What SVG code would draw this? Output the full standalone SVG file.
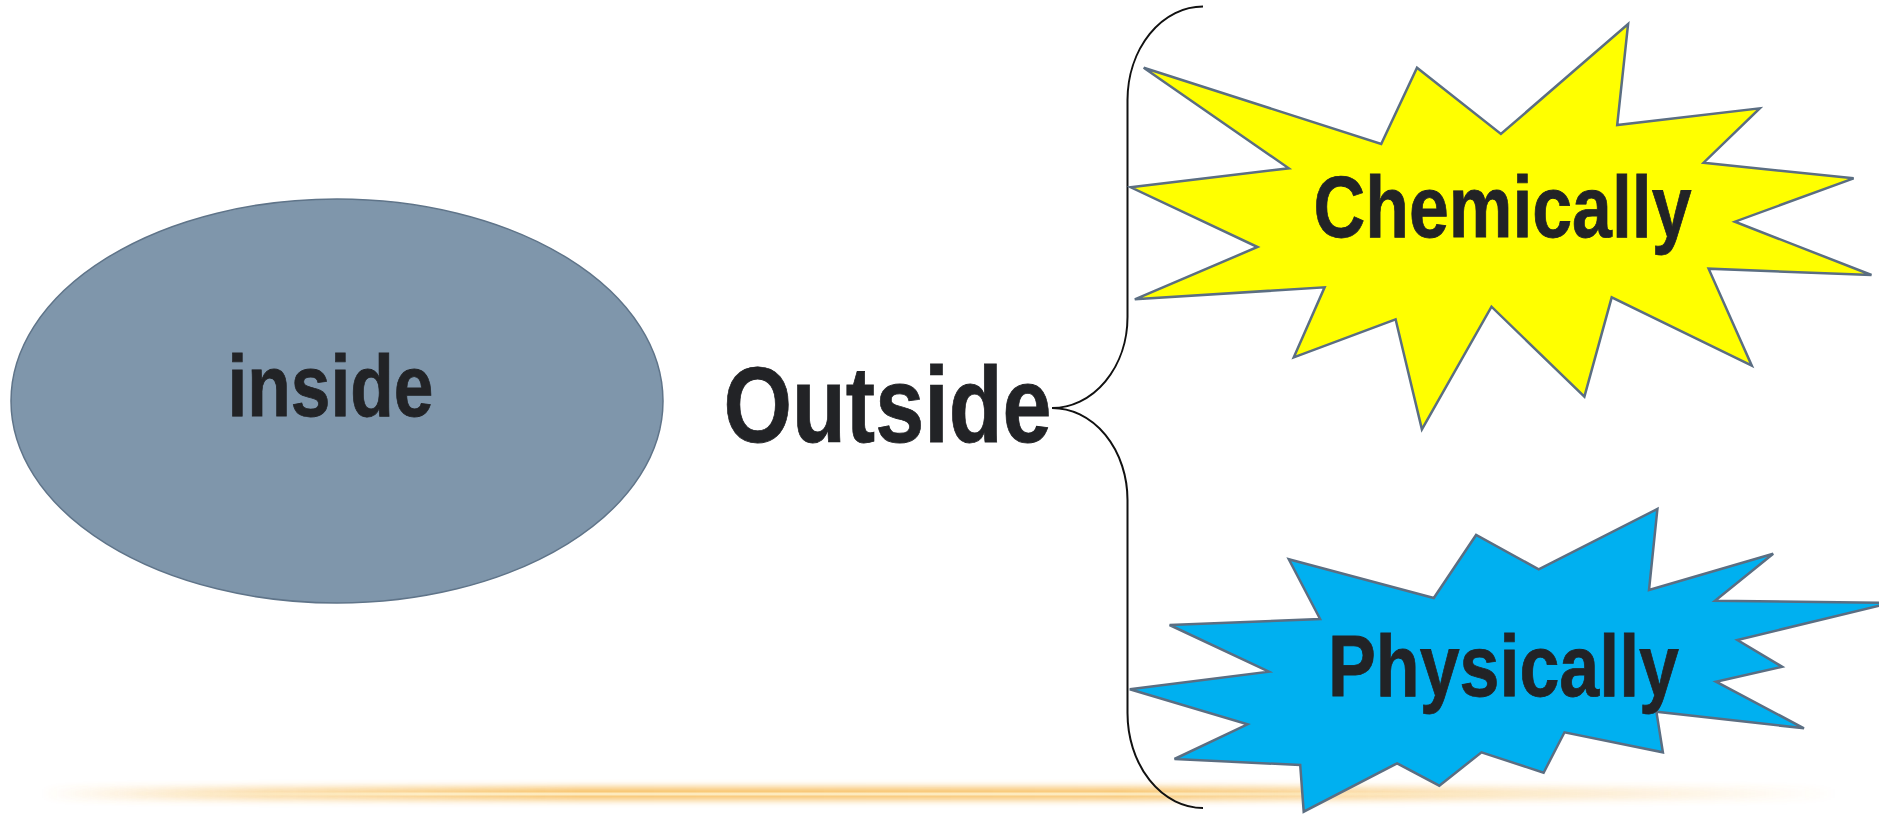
<svg xmlns="http://www.w3.org/2000/svg" width="1879" height="814" viewBox="0 0 1879 814">
<defs>
<style>
.lbl{font-family:"Liberation Sans",Arial,sans-serif;font-weight:bold;fill:#222326;stroke:#222326;stroke-width:0.8;}
.star{stroke:#5b6e82;stroke-width:2.5;stroke-linejoin:miter;}
.brace{fill:none;stroke:#111;stroke-width:2;}
</style>
<linearGradient id="glowH" x1="0" y1="0" x2="1" y2="0">
<stop offset="0" stop-color="#f6b342" stop-opacity="0"/>
<stop offset="0.12" stop-color="#f6b342" stop-opacity="0.5"/>
<stop offset="0.3" stop-color="#f6b342" stop-opacity="0.95"/>
<stop offset="0.6" stop-color="#f6b342" stop-opacity="0.9"/>
<stop offset="0.82" stop-color="#f6b342" stop-opacity="0.35"/>
<stop offset="1" stop-color="#f6b342" stop-opacity="0"/>
</linearGradient>
<linearGradient id="coreH" x1="0" y1="0" x2="1" y2="0">
<stop offset="0" stop-color="#fff3d0" stop-opacity="0"/>
<stop offset="0.2" stop-color="#fff3d0" stop-opacity="0.8"/>
<stop offset="0.65" stop-color="#fff3d0" stop-opacity="0.8"/>
<stop offset="1" stop-color="#fff3d0" stop-opacity="0"/>
</linearGradient>
<filter id="blur" x="-5%" y="-200%" width="110%" height="500%">
<feGaussianBlur stdDeviation="3.5"/>
</filter>
</defs>
<rect width="1879" height="814" fill="#ffffff"/>
<g id="glow">
<rect x="40" y="787" width="1800" height="13" fill="url(#glowH)" filter="url(#blur)" opacity="0.85"/>
<rect x="120" y="792.5" width="1500" height="3" fill="url(#coreH)"/>
</g>
<g id="inside">
<ellipse cx="337" cy="401" rx="326" ry="202" fill="#7f96ab" stroke="#5f7489" stroke-width="1.5"/>
<text class="lbl" x="227.5" y="416" font-size="87" textLength="206" lengthAdjust="spacingAndGlyphs">inside</text>
</g>
<g id="outside">
<text class="lbl" x="723.5" y="442" font-size="108" textLength="328" lengthAdjust="spacingAndGlyphs">Outside</text>
</g>
<g id="connectors">
<path class="brace" d="M1203,6.5 A75.5,94 0 0 0 1127.5,100 L1127.5,317 A75.5,91 0 0 1 1052,408 A75.5,92 0 0 1 1127.5,500 L1127.5,713 A75.5,95 0 0 0 1203,808"/>
</g>
<g id="chemically">
<polygon class="star" fill="#ffff00" points="1143.7,67.7 1381.2,144 1417,67.7 1500.9,134 1628.1,24 1617.2,125 1759.7,108.3 1703.6,162.7 1853.6,178.3 1734.9,221.7 1871.5,275 1708.6,268.7 1751.8,365.7 1611.7,297.3 1584.4,396.7 1491.5,306.7 1421.9,429.3 1395.6,319.3 1293.8,357.3 1324.6,287.3 1134.8,299.3 1257.5,247 1130.8,187.3 1288.8,168.3"/>
<text class="lbl" x="1313.5" y="237" font-size="87" textLength="378" lengthAdjust="spacingAndGlyphs">Chemically</text>
</g>
<g id="physically">
<polygon class="star" fill="#00b0f0" points="1288.8,559.3 1433.8,598 1476.1,535 1538.7,569.3 1657.4,509 1649,590 1773.2,553.7 1715,600.7 1890,603 1737.4,640 1782.1,666.7 1716,681.7 1804,728.3 1656.4,711.7 1662.9,752.3 1564.5,732.3 1543.6,772.7 1481.5,752.3 1439.3,785.7 1397.1,763.3 1303.7,811.7 1300.2,765 1174.5,759 1247.5,724.3 1129.8,689.3 1268.9,671.7 1169.6,625 1320.1,619"/>
<text class="lbl" x="1328" y="696" font-size="88" textLength="351" lengthAdjust="spacingAndGlyphs">Physically</text>
</g>
</svg>
